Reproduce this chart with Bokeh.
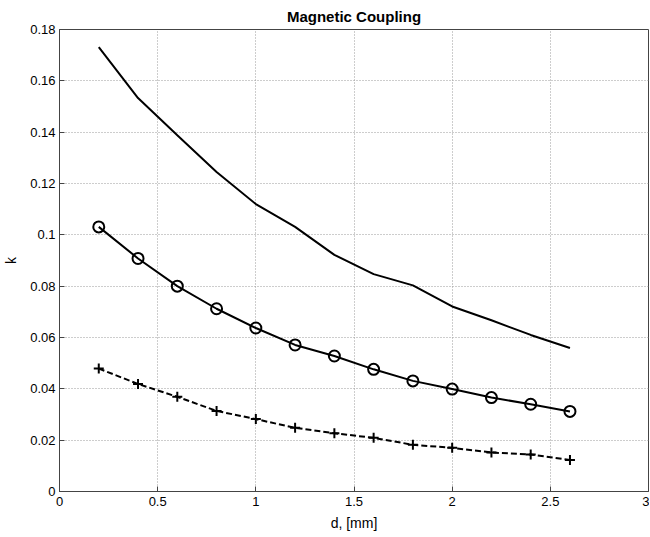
from bokeh.plotting import figure
from bokeh.models import Range1d, FixedTicker
from bokeh.embed import file_html
from bokeh.resources import INLINE

# Data
d_mm = [0.2, 0.4, 0.6, 0.8, 1.0, 1.2, 1.4, 1.6, 1.8, 2.0, 2.2, 2.4, 2.6]
k_top = [0.1731, 0.1533, 0.1388, 0.1245, 0.1120, 0.1031, 0.0922, 0.0847, 0.0803,
         0.0721, 0.0667, 0.0610, 0.0559]
k_circle = [0.1031, 0.0908, 0.0800, 0.0712, 0.0637, 0.0571, 0.0528, 0.0476, 0.0431,
            0.0399, 0.0366, 0.0340, 0.0312]
k_plus = [0.0479, 0.0419, 0.0369, 0.0314, 0.0282, 0.0248, 0.0227, 0.0209, 0.0182,
          0.0170, 0.0152, 0.0144, 0.0123]

x_ticks = [0, 0.5, 1, 1.5, 2, 2.5, 3]
x_tick_labels = ["0", "0.5", "1", "1.5", "2", "2.5", "3"]
y_ticks = [0, 0.02, 0.04, 0.06, 0.08, 0.1, 0.12, 0.14, 0.16, 0.18]
y_tick_labels = ["0", "0.02", "0.04", "0.06", "0.08", "0.1", "0.12", "0.14", "0.16", "0.18"]

FONT = "Liberation Sans"

p = figure(
    output_backend="svg", toolbar_location=None,
    frame_width=589, frame_height=462,
    min_border_left=52, min_border_right=1, min_border_top=25, min_border_bottom=42,
    x_range=Range1d(0, 3), y_range=Range1d(0, 0.18),
    title="Magnetic Coupling",
)
p.title.align = "center"
p.title.text_font = FONT
p.title.text_font_size = "15px"
p.title.text_font_style = "bold"
p.title.text_color = "black"

p.background_fill_color = "white"
p.border_fill_color = "white"
p.outline_line_color = "#444444"
p.outline_line_width = 1

for ax in (p.xaxis[0], p.yaxis[0]):
    ax.axis_line_color = "#444444"
    ax.major_tick_line_color = "#444444"
    ax.major_tick_in = 5
    ax.major_tick_out = 0
    ax.minor_tick_line_color = None
    ax.major_label_text_font = FONT
    ax.major_label_text_font_size = "13px"
    ax.major_label_text_color = "black"
    ax.axis_label_text_font = FONT
    ax.axis_label_text_font_size = "14px"
    ax.axis_label_text_font_style = "normal"
    ax.axis_label_text_color = "black"

p.xaxis.ticker = FixedTicker(ticks=x_ticks)
p.xaxis.major_label_overrides = {t: l for t, l in zip(x_ticks, x_tick_labels)}
p.yaxis.ticker = FixedTicker(ticks=y_ticks)
p.yaxis.major_label_overrides = {t: l for t, l in zip(y_ticks, y_tick_labels)}
p.xaxis.axis_label = "d, [mm]"
p.yaxis.axis_label = "k"
p.xaxis.major_label_standoff = 5
p.yaxis.major_label_standoff = 4
p.xaxis.axis_label_standoff = 6
p.yaxis.axis_label_standoff = 8

for g in (p.xgrid[0], p.ygrid[0]):
    g.grid_line_color = "#9a9a9a"
    g.grid_line_dash = "1 2"
    g.grid_line_width = 1

p.line(d_mm, k_top, line_color="black", line_width=2)
p.line(d_mm, k_circle, line_color="black", line_width=2)
p.scatter(d_mm, k_circle, marker="circle", size=11, fill_color=None,
          line_color="black", line_width=2)
p.line(d_mm, k_plus, line_color="black", line_width=2, line_dash="6 3")
p.scatter(d_mm, k_plus, marker="cross", size=10, line_color="black", line_width=2)

open("out.html", "w").write(file_html(p, INLINE))
